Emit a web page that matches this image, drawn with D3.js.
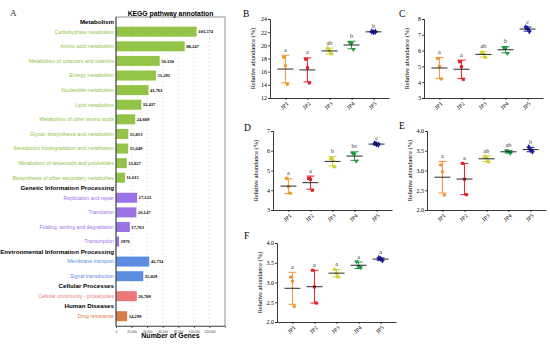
<!DOCTYPE html>
<html>
<head>
<meta charset="utf-8">
<script src="https://cdn.jsdelivr.net/npm/d3@7"></script>
<style>
  body { margin: 0; background: #fff; }
  svg { display: block; }
  .sans { font-family: "Liberation Sans", Arial, sans-serif; }
  .serif { font-family: "Liberation Serif", "Times New Roman", serif; }
</style>
</head>
<body>
<svg id="fig" width="550" height="348"></svg>
<script>
// ---- panel A data ----
const keggHeaders = ["Metabolism", "Genetic Information Processing",
  "Environmental Information Processing", "Cellular Processes", "Human Diseases"];
const keggPathways = [
  "Carbohydrate metabolism", "Amino acid metabolism", "Metabolism of cofactors and vitamins",
  "Energy metabolism", "Nucleotide metabolism", "Lipid metabolism",
  "Metabolism of other amino acids", "Glycan biosynthesis and metabolism",
  "Xenobiotics biodegradation and metabolism", "Metabolism of terpenoids and polyketides",
  "Biosynthesis of other secondary metabolites",
  "Replication and repair", "Translation", "Folding, sorting and degradation", "Transcription",
  "Membrane transport", "Signal transduction",
  "Cellular community - prokaryotes",
  "Drug resistance"];
const keggGenes = [103574, 88247, 56130, 51291, 41761, 32437, 24669, 15813, 15649, 13827, 11615,
  27121, 26147, 17763, 3976,
  42734, 35029,
  26709,
  14299];
const keggGroupOf = [0,0,0,0,0,0,0,0,0,0,0, 1,1,1,1, 2,2, 3, 4];
const keggTicks = [0, 20000, 40000, 60000, 80000, 100000, 120000];

// ---- panels B-F data ----
const groups = ["JP1", "JP2", "JP3", "JP4", "JP5"];
const valuesB = [[18.2, 16.9, 14.1], [17.9, 16.6, 14.3], [19.55, 19.2, 18.7], [20.45, 20.3, 19.4], [22.1, 22.0, 22.05]];
const lettersB = ["a", "a", "ab", "b", "b"];
const valuesC = [[5.5, 5.0, 4.2], [5.3, 4.98, 4.18], [5.89, 5.82, 5.57], [6.18, 6.15, 5.83], [7.47, 7.4, 7.22]];
const lettersC = ["a", "a", "ab", "b", "c"];
const valuesD = [[4.6, 4.18, 3.85], [4.6, 4.55, 4.0], [5.62, 5.57, 5.19], [5.87, 5.84, 5.48], [6.38, 6.33, 6.3]];
const lettersD = ["a", "a", "b", "bc", "c"];
const valuesE = [[3.14, 2.97, 2.38], [3.18, 2.78, 2.39], [3.35, 3.32, 3.22], [3.5, 3.48, 3.44], [3.59, 3.52, 3.48]];
const lettersE = ["a", "a", "ab", "ab", "b"];
const valuesF = [[3.14, 3.03, 2.39], [3.31, 2.89, 2.48], [3.33, 3.24, 3.14], [3.53, 3.4, 3.38], [3.62, 3.6, 3.56]];
const lettersF = ["a", "a", "a", "a", "a"];

const keggColors = ["#93c447", "#9a73e6", "#5b8de3", "#ef7676", "#d97c45"];
const groupColors = ["#f39530", "#e5222b", "#cfcf2e", "#1d9a3e", "#1c1ca6"];

const svg = d3.select("#fig");

// ================= panel A =================
function drawKegg() {
  const left = 116, right = 225, top = 17, bottom = 326;
  const g = svg.append("g");

  // build row list: header row followed by its pathways
  const rows = [];
  let u = 0;
  keggHeaders.forEach((h, hi) => {
    rows.push({ type: "header", name: h, u: u + 0.185 });
    u += 0.37;
    keggPathways.forEach((p, i) => {
      if (keggGroupOf[i] !== hi) return;
      rows.push({ type: "bar", name: p, value: keggGenes[i], grp: hi, u: u + 0.5 });
      u += 1;
    });
  });

  const y = d3.scaleLinear().domain([0, u]).range([19, 323.5]);
  const x = d3.scaleLinear().domain([0, 140000]).range([left, right]);
  const barH = 10;

  // grid
  g.selectAll("line.grid")
    .data(keggTicks.slice(1))
    .join("line")
    .attr("x1", d => x(d)).attr("x2", d => x(d))
    .attr("y1", top).attr("y2", bottom)
    .attr("stroke", "#d8d8d8").attr("stroke-width", 0.5)
    .attr("stroke-dasharray", "2,2");

  const bars = rows.filter(r => r.type === "bar");
  g.selectAll("rect.bar")
    .data(bars)
    .join("rect")
    .attr("x", x(0))
    .attr("y", d => y(d.u) - barH / 2)
    .attr("width", d => x(d.value) - x(0))
    .attr("height", barH)
    .attr("fill", d => keggColors[d.grp]);

  g.selectAll("text.val")
    .data(bars)
    .join("text")
    .attr("class", "serif")
    .attr("x", d => x(d.value) + 1.5)
    .attr("y", d => y(d.u) + 1.6)
    .style("font-size", "4.6px")
    .style("font-weight", "bold")
    .text(d => d3.format(d.value >= 10000 ? "," : "")(d.value));

  g.selectAll("text.lab")
    .data(rows)
    .join("text")
    .attr("class", "sans")
    .attr("x", left - 2)
    .attr("y", d => y(d.u) + (d.type === "header" ? 2.2 : 1.8))
    .attr("text-anchor", "end")
    .style("font-size", d => d.type === "header" ? "6.2px" : "5.2px")
    .style("font-weight", d => d.type === "header" ? "bold" : "normal")
    .attr("fill", d => d.type === "header" ? "#000" : keggColors[d.grp])
    .text(d => d.name);

  // frame
  g.append("rect")
    .attr("x", left).attr("y", top)
    .attr("width", right - left).attr("height", bottom - top)
    .attr("fill", "none").attr("stroke", "#777").attr("stroke-width", 0.8);
  g.append("line")
    .attr("x1", left).attr("x2", left).attr("y1", top).attr("y2", bottom)
    .attr("stroke", "#333").attr("stroke-width", 0.8);

  const ax = g.append("g")
    .attr("transform", `translate(0,${bottom})`)
    .call(d3.axisBottom(x).tickValues(keggTicks).tickSize(2).tickFormat(d3.format(",")));
  ax.select(".domain").attr("stroke", "#555").attr("stroke-width", 0.8);
  ax.selectAll(".tick line").attr("stroke", "#555");
  ax.selectAll("text").attr("class", "sans").style("font-size", "3.1px").attr("fill", "#444").attr("dy", "0.5em");

  g.append("text")
    .attr("class", "sans")
    .attr("x", (left + right) / 2).attr("y", 338)
    .attr("text-anchor", "middle")
    .style("font-size", "7px").style("font-weight", "bold")
    .text("Number of Genes");

  g.append("text")
    .attr("class", "sans")
    .attr("x", (left + right) / 2).attr("y", 15.5)
    .attr("text-anchor", "middle")
    .style("font-size", "6.8px").style("font-weight", "bold")
    .text("KEGG pathway annotation");

  g.append("text")
    .attr("class", "serif")
    .attr("x", 10).attr("y", 16)
    .style("font-size", "9px")
    .attr("fill", "#333")
    .text("A");
}

// ================= panels B-F =================
const symbolTypes = [d3.symbolCircle, d3.symbolSquare, d3.symbolTriangle, d3.symbolTriangle, d3.symbolDiamond];

function drawPanel(cfg) {
  const w = 119, h = 79;
  const g = svg.append("g").attr("transform", `translate(${cfg.left},${cfg.top})`);

  const x = d3.scalePoint().domain(groups).range([0, w]).padding(0.7);
  const y = d3.scaleLinear().domain(cfg.domain).range([h, 0]);

  const stats = cfg.values.map((v, i) => {
    const m = d3.mean(v), s = d3.deviation(v);
    return { grp: groups[i], i, mean: m, lo: m - s, hi: m + s, letter: cfg.letters[i], v };
  });

  const ya = g.append("g").call(d3.axisLeft(y).tickValues(cfg.ticks).tickSize(2).tickFormat(d3.format(cfg.fmt)));
  const xa = g.append("g").attr("transform", `translate(0,${h})`)
    .call(d3.axisBottom(x).tickSize(2).tickSizeOuter(0));
  [ya, xa].forEach(a => {
    a.select(".domain").attr("stroke", "#222").attr("stroke-width", 0.9);
    a.selectAll(".tick line").attr("stroke", "#222").attr("stroke-width", 0.8);
  });
  ya.selectAll("text").attr("class", "serif").style("font-size", "6px").attr("x", -3);
  xa.selectAll("text")
    .attr("class", "serif")
    .style("font-size", "5.8px")
    .attr("text-anchor", "end")
    .attr("dy", null)
    .attr("y", 0)
    .attr("transform", "translate(3,6) rotate(-45)");

  const grp = g.selectAll("g.grp").data(stats).join("g")
    .attr("transform", d => `translate(${x(d.grp)},0)`);

  grp.append("line")
    .attr("y1", d => y(d.lo)).attr("y2", d => y(d.hi))
    .attr("stroke", d => groupColors[d.i]).attr("stroke-width", 1);
  [d => d.lo, d => d.hi].forEach(f => {
    grp.append("line")
      .attr("x1", -4).attr("x2", 4)
      .attr("y1", d => y(f(d))).attr("y2", d => y(f(d)))
      .attr("stroke", d => groupColors[d.i]).attr("stroke-width", 1);
  });

  grp.each(function(d) {
    d3.select(this).selectAll("path.pt").data(d.v).join("path")
      .attr("transform", (v, j) => `translate(${(j - 1) * 1.8},${y(v)})${d.i === 3 ? " rotate(180)" : ""}`)
      .attr("d", d3.symbol().type(symbolTypes[d.i]).size(d.i === 4 ? 12 : 10))
      .attr("fill", groupColors[d.i]);
  });

  grp.append("line")
    .attr("x1", -8).attr("x2", 8)
    .attr("y1", d => y(d.mean)).attr("y2", d => y(d.mean))
    .attr("stroke", "#111").attr("stroke-width", 0.9);

  grp.append("text")
    .attr("class", "serif")
    .attr("y", d => y(d.hi) - 3.5)
    .attr("text-anchor", "middle")
    .style("font-size", "6.2px")
    .attr("fill", "#333")
    .text(d => d.letter);

  g.append("text")
    .attr("class", "serif")
    .attr("transform", `translate(-15,${h / 2}) rotate(-90)`)
    .attr("text-anchor", "middle")
    .style("font-size", "6.4px")
    .text("Relative abundance (%)");

  g.append("text")
    .attr("class", "serif")
    .attr("x", cfg.letterX - cfg.left).attr("y", cfg.letterY - cfg.top)
    .style("font-size", "9.5px")
    .text(cfg.name);
}

drawKegg();
drawPanel({ name: "B", left: 270, top: 19, letterX: 243, letterY: 17, domain: [12, 24], ticks: d3.range(12, 25, 2), fmt: "d", values: valuesB, letters: lettersB });
drawPanel({ name: "C", left: 424, top: 19, letterX: 399, letterY: 17, domain: [3, 8], ticks: d3.range(3, 9, 1), fmt: "d", values: valuesC, letters: lettersC });
drawPanel({ name: "D", left: 273, top: 131, letterX: 244, letterY: 131, domain: [3, 7], ticks: d3.range(3, 8, 1), fmt: "d", values: valuesD, letters: lettersD });
drawPanel({ name: "E", left: 427, top: 131, letterX: 399, letterY: 129, domain: [2, 4], ticks: [2, 2.5, 3, 3.5, 4], fmt: ".1f", values: valuesE, letters: lettersE });
drawPanel({ name: "F", left: 277, top: 243, letterX: 244, letterY: 239, domain: [2, 4], ticks: [2, 2.5, 3, 3.5, 4], fmt: ".1f", values: valuesF, letters: lettersF });
</script>
</body>
</html>
